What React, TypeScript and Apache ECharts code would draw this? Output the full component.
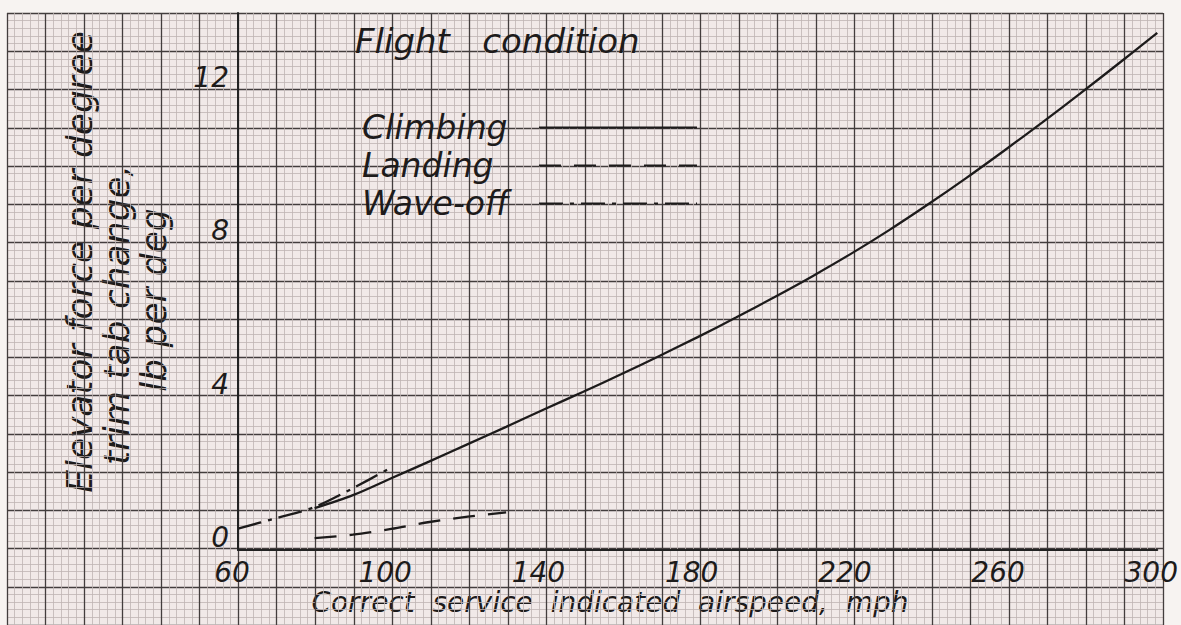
import React, { useEffect, useRef } from "react";
import * as echarts from "echarts";

// ---- data ----
const climbingSpeed = [80, 90, 100, 110, 120, 130, 140, 150, 160, 170, 180, 190, 200, 210, 220, 230, 240, 250, 260, 270, 280, 290, 300];
const climbingForce = [1.09, 1.43, 1.87, 2.31, 2.76, 3.21, 3.67, 4.12, 4.58, 5.06, 5.55, 6.06, 6.59, 7.14, 7.72, 8.34, 9.0, 9.69, 10.41, 11.15, 11.91, 12.69, 13.48];
const landingSpeed = [80, 90, 100, 110, 120, 130];
const landingForce = [0.31, 0.4, 0.55, 0.73, 0.87, 0.98];
const waveOffSpeed = [60, 70, 80, 90, 100];
const waveOffForce = [0.56, 0.83, 1.12, 1.61, 2.15];

const xTickLabels = [60, 100, 140, 180, 220, 260, 300];
const yTickLabels = [0, 4, 8, 12];

const seriesNames = ["Climbing", "Landing", "Wave-off"];
const legendTitle = "Flight   condition";
const xTitle = "Correct  service  indicated  airspeed,  mph";
const yTitleLines = ["Elevator force per degree", "trim tab change,", "lb per deg"];

const FONT = "'DejaVu Sans', 'Liberation Sans', sans-serif";
const INK = "#1d1b1b";

const pairs = (xs: number[], ys: number[]) => xs.map((x, i) => [x, ys[i]]);

export default function App() {
  const ref = useRef<HTMLDivElement>(null);
  useEffect(() => {
    if (!ref.current) return;
    const chart = echarts.init(ref.current, undefined, { renderer: "svg" });
    const lineBase = { type: "line", xAxisIndex: 1, yAxisIndex: 1, symbol: "none", smooth: 0.3, z: 5 };
    const textBase = { fontFamily: FONT, fontStyle: "italic", fontWeight: "normal", color: INK };
    chart.setOption({
      animation: false,
      backgroundColor: "#f7f3f1",
      title: {
        text: legendTitle,
        left: 350,
        top: 19,
        textStyle: { ...textBase, fontSize: 34 },
      },
      legend: {
        data: seriesNames,
        orient: "vertical",
        right: 478,
        top: 104,
        align: "right",
        itemWidth: 158,
        itemHeight: 14,
        itemGap: 1,
        itemStyle: { color: "transparent", borderWidth: 0, opacity: 0 },
        formatter: (name: string) => `{t|${name}}`,
        textStyle: {
          ...textBase,
          fontSize: 33,
          lineHeight: 37,
          rich: { t: { ...textBase, fontSize: 33, lineHeight: 37, width: 172, align: "left" } },
        },
      },
      grid: [
        { left: 7, top: 13, width: 1156, height: 614, show: true, backgroundColor: "#f1e9e8", borderWidth: 0 },
        { left: 238, top: 13, width: 925, height: 537, show: false },
      ],
      xAxis: [
        {
          type: "value", gridIndex: 0, min: 0, max: 300, interval: 10,
          axisLine: { show: false }, axisTick: { show: false }, axisLabel: { show: false },
          splitLine: { show: true, lineStyle: { color: "#433d3d", width: 1.3 } },
          minorTick: { show: false, splitNumber: 5 },
          minorSplitLine: { show: true, lineStyle: { color: "#bfb4b3", width: 0.8 } },
        },
        {
          type: "value", gridIndex: 1, min: 60, max: 300,
          axisLine: { show: true, lineStyle: { color: "#222", width: 2 } },
          axisTick: { show: false },
          splitLine: { show: false },
          axisLabel: {
            customValues: xTickLabels,
            ...textBase, fontSize: 28, margin: 8, padding: [0, 12, 0, 0],
          },
        },
      ],
      yAxis: [
        {
          type: "value", gridIndex: 0, min: -2, max: 14, interval: 1,
          axisLine: { show: false }, axisTick: { show: false }, axisLabel: { show: false },
          splitLine: { show: true, lineStyle: { color: "#433d3d", width: 1.3 } },
          minorTick: { show: false, splitNumber: 5 },
          minorSplitLine: { show: true, lineStyle: { color: "#bfb4b3", width: 0.8 } },
        },
        {
          type: "value", gridIndex: 1, min: 0, max: 14,
          axisLine: { show: true, lineStyle: { color: "#222", width: 2 } },
          axisTick: { show: false },
          splitLine: { show: false },
          axisLabel: {
            customValues: yTickLabels,
            margin: 9,
            verticalAlign: "bottom",
            lineHeight: 25,
            ...textBase, fontSize: 28,
          },
        },
      ],
      graphic: [
        {
          type: "text", x: 610, y: 602,
          style: { text: xTitle, font: `italic 28px ${FONT}`, fill: INK, textAlign: "center", textVerticalAlign: "middle" },
        },
        ...yTitleLines.map((t, i) => ({
          type: "text",
          x: [79, 116, 153][i],
          y: [262, 315, 300][i],
          rotation: Math.PI / 2,
          style: { text: t, font: `italic 36px ${FONT}`, lineHeight: 36, fill: INK, textAlign: "center", textVerticalAlign: "middle" },
        })),
      ],
      series: [
        { ...lineBase, name: seriesNames[0], data: pairs(climbingSpeed, climbingForce), lineStyle: { color: INK, width: 2.3 } },
        { ...lineBase, name: seriesNames[1], data: pairs(landingSpeed, landingForce), lineStyle: { color: INK, width: 2.3, type: [22, 13] } },
        { ...lineBase, name: seriesNames[2], data: pairs(waveOffSpeed, waveOffForce), lineStyle: { color: INK, width: 2.3, type: [24, 7, 4, 7] } },
      ],
    });
    return () => chart.dispose();
  }, []);
  return <div ref={ref} style={{ position: "fixed", left: 0, top: 0, width: 1181, height: 625 }} />;
}
